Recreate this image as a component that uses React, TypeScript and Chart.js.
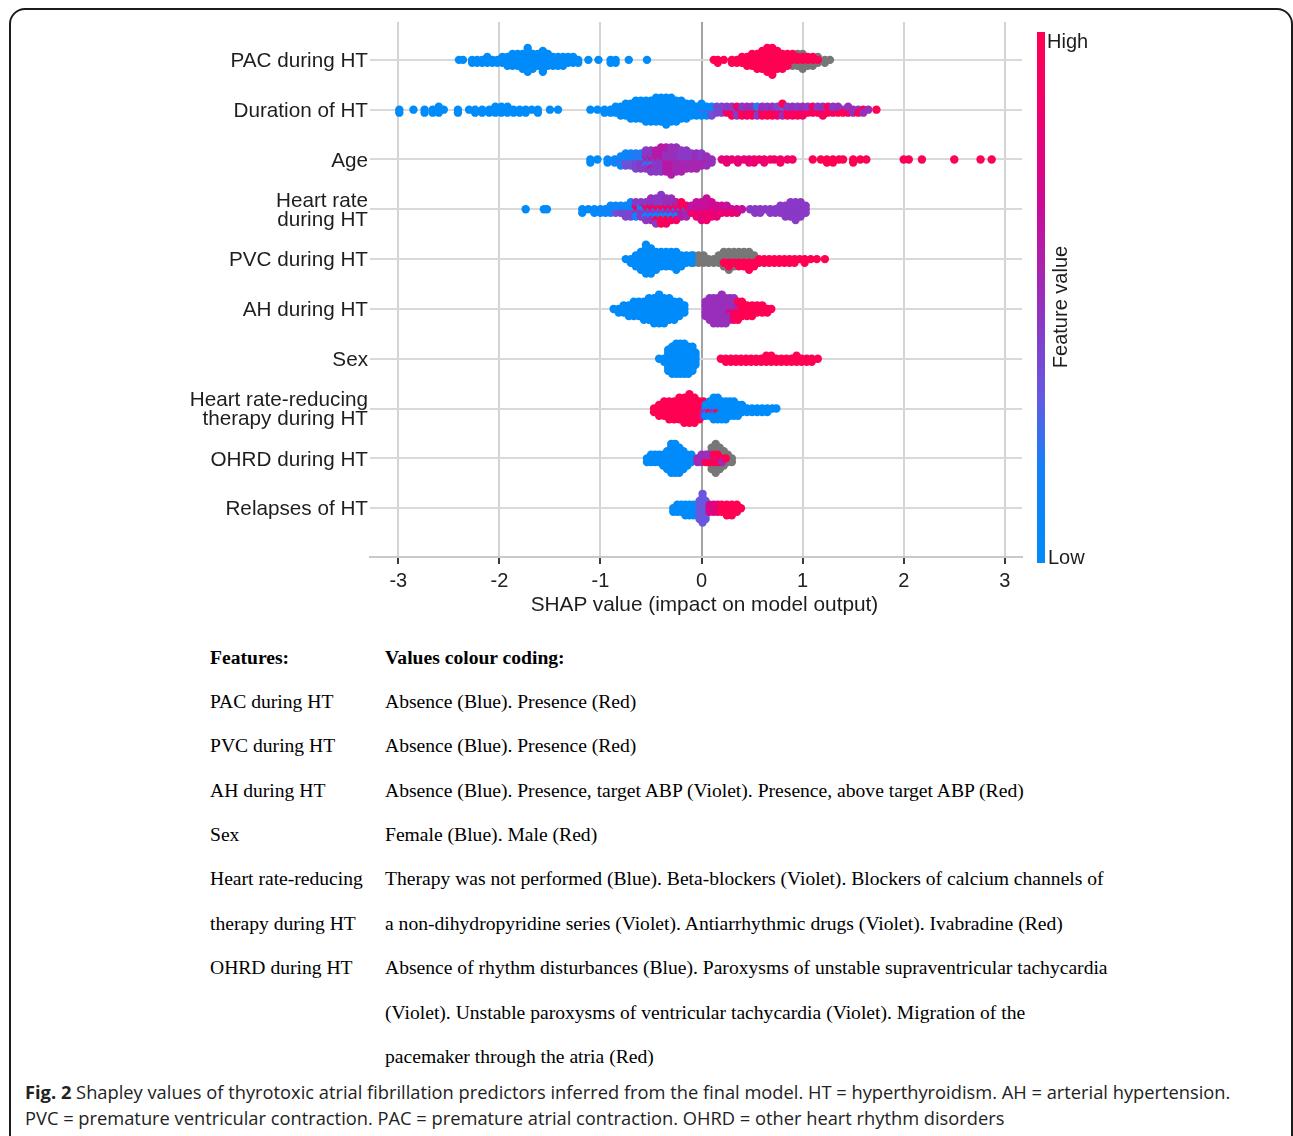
import React, { useEffect, useRef } from "react";
import { Chart, registerables } from "chart.js";

Chart.register(...registerables);

// [SHAP value, number of patients at that value, feature value (0 = low/blue, 1 = high/red, null = missing/grey)]
type Entry = [number, number, number | null];

const featureLabels: (string | string[])[] = [
  "PAC during HT",
  "Duration of HT",
  "Age",
  ["Heart rate", "during HT"],
  "PVC during HT",
  "AH during HT",
  "Sex",
  ["Heart rate-reducing", "therapy during HT"],
  "OHRD during HT",
  "Relapses of HT",
];

const xTicks = [-3, -2, -1, 0, 1, 2, 3];

const pacDuringHT: Entry[] = [
  [-2.4, 1, 0], [-2.36, 1, 0], [-2.27, 2, 0], [-2.22, 2, 0], [-2.17, 2, 0], [-2.12, 3, 0], [-2.07, 2, 0],
  [-2.02, 2, 0], [-1.97, 3, 0], [-1.92, 4, 0], [-1.87, 5, 0], [-1.82, 5, 0], [-1.77, 6, 0], [-1.72, 9, 0],
  [-1.67, 6, 0], [-1.62, 5, 0], [-1.57, 8, 0], [-1.52, 5, 0], [-1.47, 4, 0], [-1.42, 4, 0], [-1.37, 4, 0],
  [-1.32, 3, 0], [-1.27, 3, 0], [-1.22, 2, 0], [-1.12, 1, 0], [-1.02, 1, 0], [-0.9, 2, 0], [-0.85, 2, 0],
  [-0.72, 1, 0], [-0.54, 1, 0],
  [0.12, 1, 1], [0.16, 2, 1], [0.22, 1, 1], [0.3, 2, 1], [0.35, 2, 1], [0.4, 3, 1], [0.45, 4, 1],
  [0.5, 5, 1], [0.55, 6, 1], [0.6, 7, 1], [0.65, 8, 1], [0.65, 1, null], [0.7, 9, 1], [0.7, 1, null],
  [0.75, 7, 1], [0.8, 5, 1], [0.8, 1, null], [0.85, 4, 1], [0.85, 1, null], [0.9, 3, 1], [0.9, 2, null],
  [0.95, 2, 1], [0.95, 3, null], [1.0, 2, 1], [1.0, 4, null], [1.05, 2, 1], [1.05, 2, null], [1.1, 2, 1],
  [1.1, 2, null], [1.15, 1, 1], [1.15, 2, null], [1.22, 2, null], [1.27, 1, null],
];

const durationOfHT: Entry[] = [
  [-2.99, 2, 0], [-2.85, 1, 0], [-2.74, 2, 0], [-2.66, 2, 0], [-2.6, 3, 0], [-2.55, 1, 0], [-2.41, 2, 0],
  [-2.3, 1, 0], [-2.24, 2, 0], [-2.17, 2, 0], [-2.1, 2, 0], [-2.04, 3, 0], [-1.98, 3, 0], [-1.92, 3, 0],
  [-1.86, 2, 0], [-1.8, 2, 0], [-1.74, 2, 0], [-1.68, 1, 0], [-1.62, 2, 0], [-1.5, 1, 0], [-1.42, 1, 0],
  [-1.1, 1, 0], [-1.03, 1, 0], [-0.96, 2, 0], [-0.9, 2, 0], [-0.85, 3, 0], [-0.8, 4, 0], [-0.75, 5, 0],
  [-0.7, 6, 0], [-0.65, 7, 0], [-0.6, 7, 0], [-0.55, 8, 0], [-0.5, 8, 0], [-0.45, 9, 0], [-0.4, 9, 0],
  [-0.35, 10, 0], [-0.3, 9, 0], [-0.25, 8, 0], [-0.2, 7, 0], [-0.15, 6, 0], [-0.1, 5, 0], [-0.05, 4, 0],
  [0.0, 4, 0], [0.0, 1, 0.3], [0.05, 3, 0], [0.05, 1, 0.3], [0.1, 2, 0], [0.1, 2, 0.35], [0.15, 1, 0],
  [0.15, 2, 0.4],
  [0.2, 1, 0.1], [0.2, 2, 0.4], [0.25, 2, 0.45], [0.25, 1, 0.9], [0.3, 2, 0.45], [0.3, 2, 1],
  [0.35, 1, 0.2], [0.35, 2, 0.45], [0.35, 1, 0.9], [0.4, 2, 0.45], [0.4, 2, 1], [0.45, 1, 0.4],
  [0.45, 2, 0.9], [0.45, 1, 0.5], [0.5, 2, 0.5], [0.5, 2, 1], [0.55, 2, 0.45], [0.55, 1, 1], [0.55, 1, 0.2],
  [0.6, 2, 0.5], [0.6, 2, 0.9], [0.65, 2, 0.45], [0.65, 2, 1], [0.7, 2, 0.5], [0.7, 2, 1], [0.75, 2, 0.4],
  [0.75, 2, 0.9], [0.8, 2, 0.5], [0.8, 2, 1], [0.8, 1, 0.3], [0.85, 2, 0.45], [0.85, 2, 1], [0.9, 2, 0.5],
  [0.9, 2, 0.9], [0.95, 2, 0.45], [0.95, 2, 1], [1.0, 2, 0.5], [1.0, 2, 0.9], [1.05, 2, 0.45], [1.05, 1, 1],
  [1.1, 1, 0.5], [1.1, 2, 0.9], [1.15, 2, 0.45], [1.15, 1, 1], [1.2, 2, 0.5], [1.2, 2, 0.9], [1.25, 1, 0.5],
  [1.25, 2, 1], [1.3, 2, 0.45], [1.3, 1, 0.9], [1.35, 2, 0.5], [1.35, 1, 1], [1.4, 1, 0.45], [1.4, 1, 1],
  [1.45, 2, 0.5], [1.45, 1, 0.9], [1.5, 2, 0.5], [1.55, 1, 0.45], [1.55, 1, 1], [1.6, 1, 1], [1.6, 1, 0.5],
  [1.65, 1, 0.5], [1.73, 1, 1],
];

const age: Entry[] = [
  [-1.1, 2, 0], [-1.03, 1, 0], [-0.93, 2, 0.05], [-0.86, 2, 0.1], [-0.8, 3, 0.1], [-0.8, 1, 0.3],
  [-0.75, 3, 0.1], [-0.75, 2, 0.35], [-0.7, 3, 0.15], [-0.7, 2, 0.35], [-0.65, 3, 0.2], [-0.65, 3, 0.4],
  [-0.6, 3, 0.2], [-0.6, 3, 0.45], [-0.55, 2, 0.2], [-0.55, 4, 0.45], [-0.55, 1, 0.55], [-0.5, 2, 0.25],
  [-0.5, 4, 0.45], [-0.5, 2, 0.6], [-0.45, 1, 0.3], [-0.45, 4, 0.45], [-0.45, 3, 0.6], [-0.4, 1, 0.3],
  [-0.4, 4, 0.45], [-0.4, 4, 0.6], [-0.35, 4, 0.5], [-0.35, 5, 0.6], [-0.3, 5, 0.5], [-0.3, 5, 0.6],
  [-0.25, 5, 0.5], [-0.25, 4, 0.55], [-0.2, 4, 0.45], [-0.2, 4, 0.55], [-0.15, 4, 0.45], [-0.15, 3, 0.55],
  [-0.1, 3, 0.45], [-0.1, 3, 0.55], [-0.05, 3, 0.5], [-0.05, 3, 0.55], [0.0, 3, 0.45], [0.0, 2, 0.55],
  [0.05, 3, 0.5], [0.05, 1, 0.6], [0.1, 2, 0.5],
  [0.2, 1, 0.8], [0.25, 2, 0.8], [0.3, 1, 0.85], [0.36, 2, 0.8], [0.42, 1, 0.85], [0.47, 2, 0.8],
  [0.52, 2, 0.85], [0.57, 1, 0.85], [0.62, 2, 0.85], [0.68, 1, 0.9], [0.72, 1, 0.85], [0.78, 2, 0.9],
  [0.85, 1, 0.9], [0.9, 1, 0.9], [1.1, 1, 1], [1.18, 1, 1], [1.24, 2, 1], [1.3, 2, 1], [1.36, 1, 1],
  [1.4, 1, 1], [1.5, 2, 1], [1.57, 1, 1], [1.63, 1, 1], [2.0, 1, 1], [2.05, 1, 1], [2.18, 1, 1],
  [2.5, 1, 1], [2.76, 1, 1], [2.87, 1, 1],
];

const heartRateDuringHT: Entry[] = [
  [-1.74, 1, 0], [-1.56, 1, 0], [-1.53, 1, 0], [-1.18, 2, 0], [-1.12, 1, 0], [-1.06, 2, 0.05],
  [-1.0, 2, 0.05], [-0.95, 2, 0.1], [-0.9, 3, 0.1], [-0.85, 2, 0.1], [-0.85, 1, 0.35], [-0.8, 2, 0.15],
  [-0.8, 1, 0.4], [-0.75, 2, 0.1], [-0.75, 2, 0.4], [-0.7, 3, 0.1], [-0.7, 2, 0.4], [-0.65, 2, 0.15],
  [-0.65, 2, 0.45], [-0.65, 1, 0.9], [-0.6, 2, 0.1], [-0.6, 3, 0.45], [-0.55, 2, 0.15], [-0.55, 3, 0.45],
  [-0.55, 1, 0.95], [-0.5, 2, 0.1], [-0.5, 4, 0.5], [-0.5, 1, 0.95], [-0.45, 2, 0.1], [-0.45, 4, 0.45],
  [-0.45, 2, 0.95], [-0.4, 2, 0.1], [-0.4, 4, 0.45], [-0.4, 3, 1], [-0.35, 2, 0.15], [-0.35, 3, 0.5],
  [-0.35, 3, 0.95], [-0.3, 2, 0.1], [-0.3, 3, 0.5], [-0.3, 2, 0.9], [-0.25, 2, 0.1], [-0.25, 2, 0.55],
  [-0.25, 2, 0.9], [-0.2, 1, 0.15], [-0.2, 2, 0.6], [-0.2, 2, 0.95], [-0.15, 1, 0.1], [-0.15, 2, 0.55],
  [-0.15, 1, 0.9], [-0.1, 2, 0.6], [-0.1, 1, 0.85], [-0.05, 3, 0.65], [-0.05, 2, 0.85], [0.0, 3, 0.65],
  [0.0, 3, 0.8], [0.05, 4, 0.65], [0.05, 3, 0.85], [0.1, 3, 0.7], [0.1, 2, 0.85], [0.15, 2, 0.7],
  [0.15, 2, 0.8], [0.2, 2, 0.7], [0.2, 1, 0.85], [0.25, 2, 0.65], [0.25, 1, 0.85], [0.3, 1, 0.65],
  [0.3, 1, 0.85], [0.35, 1, 0.7], [0.35, 1, 0.8], [0.4, 1, 0.65],
  [0.48, 1, 0.45], [0.53, 2, 0.45], [0.58, 2, 0.45], [0.63, 1, 0.45], [0.68, 2, 0.45], [0.73, 2, 0.45],
  [0.78, 3, 0.45], [0.83, 4, 0.45], [0.88, 5, 0.45], [0.93, 6, 0.45], [0.98, 5, 0.45], [1.03, 3, 0.45],
];

const pvcDuringHT: Entry[] = [
  [-0.75, 1, 0], [-0.7, 2, 0], [-0.65, 4, 0], [-0.6, 6, 0], [-0.55, 9, 0], [-0.5, 8, 0], [-0.45, 6, 0],
  [-0.4, 5, 0], [-0.35, 5, 0], [-0.3, 5, 0], [-0.25, 6, 0], [-0.2, 4, 0], [-0.15, 3, 0], [-0.1, 3, 0],
  [-0.08, 3, null], [-0.03, 3, null], [0.02, 3, null], [0.07, 2, null], [0.12, 2, null], [0.17, 3, null],
  [0.22, 4, null], [0.22, 1, 1], [0.27, 4, null], [0.27, 2, 1], [0.32, 4, null], [0.32, 1, 1],
  [0.37, 3, null], [0.37, 2, 1], [0.42, 3, null], [0.42, 2, 1], [0.47, 3, null], [0.47, 3, 1],
  [0.52, 2, null], [0.52, 2, 1],
  [0.57, 2, 1], [0.62, 2, 1], [0.67, 2, 1], [0.72, 2, 1], [0.77, 2, 1], [0.82, 2, 1], [0.87, 2, 1],
  [0.92, 2, 1], [0.97, 1, 1], [1.02, 2, 1], [1.08, 1, 1], [1.14, 1, 1], [1.22, 1, 1],
];

const ahDuringHT: Entry[] = [
  [-0.87, 1, 0], [-0.82, 2, 0], [-0.77, 3, 0], [-0.72, 4, 0], [-0.67, 5, 0], [-0.62, 5, 0], [-0.57, 6, 0],
  [-0.52, 7, 0], [-0.47, 8, 0], [-0.42, 9, 0], [-0.37, 8, 0], [-0.32, 7, 0], [-0.27, 6, 0], [-0.22, 5, 0],
  [-0.17, 3, 0],
  [0.04, 5, 0.5], [0.08, 7, 0.5], [0.12, 8, 0.5], [0.16, 8, 0.5], [0.2, 9, 0.5], [0.24, 8, 0.5],
  [0.28, 6, 0.5], [0.28, 1, 0.8], [0.32, 4, 0.5], [0.32, 3, 0.9], [0.36, 2, 0.55], [0.36, 4, 1],
  [0.4, 5, 1], [0.45, 4, 1], [0.5, 4, 1], [0.55, 3, 1], [0.6, 3, 1], [0.64, 1, null], [0.65, 2, 1],
  [0.69, 1, 1],
];

const sex: Entry[] = [
  [-0.42, 1, 0], [-0.37, 2, 0], [-0.33, 8, 0], [-0.29, 10, 0], [-0.25, 11, 0], [-0.21, 11, 0],
  [-0.17, 11, 0], [-0.13, 10, 0], [-0.09, 9, 0], [-0.06, 5, 0],
  [0.19, 1, 1], [0.24, 2, 1], [0.29, 2, 1], [0.34, 2, 1], [0.39, 2, 1], [0.44, 2, 1], [0.49, 2, 1],
  [0.54, 2, 1], [0.59, 2, 1], [0.64, 3, 1], [0.69, 3, 1], [0.74, 2, 1], [0.79, 2, 1], [0.84, 2, 1],
  [0.89, 2, 1], [0.94, 3, 1], [0.99, 2, 1], [1.04, 2, 1], [1.09, 2, 1], [1.15, 1, 1],
];

const hrReducingTherapy: Entry[] = [
  [-0.47, 2, 1], [-0.42, 4, 1], [-0.37, 5, 1], [-0.32, 6, 1], [-0.27, 6, 1], [-0.22, 7, 1], [-0.17, 8, 1],
  [-0.12, 9, 1], [-0.07, 8, 1], [-0.02, 6, 1], [0.02, 3, 1], [0.02, 2, 0.5], [0.04, 3, 0], [0.04, 1, 0.45],
  [0.08, 4, 0], [0.08, 1, 1], [0.12, 6, 0], [0.12, 1, 0.5], [0.16, 6, 0], [0.16, 1, 1], [0.2, 6, 0],
  [0.24, 6, 0], [0.28, 5, 0], [0.32, 5, 0], [0.36, 4, 0], [0.4, 3, 0], [0.45, 2, 0], [0.5, 2, 0],
  [0.55, 2, 0], [0.6, 2, 0], [0.65, 2, 0], [0.7, 1, 0], [0.74, 1, 0],
];

const ohrdDuringHT: Entry[] = [
  [-0.54, 2, 0], [-0.5, 3, 0], [-0.46, 3, 0], [-0.42, 3, 0], [-0.38, 4, 0], [-0.34, 6, 0], [-0.3, 9, 0],
  [-0.26, 9, 0], [-0.22, 8, 0], [-0.18, 6, 0], [-0.14, 4, 0], [-0.1, 3, 0],
  [0.06, 3, null], [0.1, 7, null], [0.14, 9, null], [0.18, 7, null], [0.22, 5, null], [0.26, 3, null],
  [0.3, 2, null],
  [-0.04, 2, 0.55], [0.0, 3, 0.5], [0.04, 2, 0.5], [0.04, 1, 1], [0.08, 2, 0.5], [0.08, 1, 1],
  [0.12, 1, 0.5], [0.12, 2, 1], [0.16, 1, 0.5], [0.16, 2, 1], [0.2, 1, 1], [0.2, 1, 0.55], [0.24, 1, 1],
];

const relapsesOfHT: Entry[] = [
  [-0.28, 2, 0], [-0.24, 3, 0], [-0.2, 3, 0], [-0.16, 4, 0], [-0.12, 4, 0], [-0.08, 4, 0], [-0.04, 3, 0],
  [-0.02, 6, 0.32], [0.01, 9, 0.32], [0.04, 6, 0.32],
  [0.08, 3, 0.75], [0.12, 3, 0.75], [0.16, 3, 0.8], [0.2, 3, 1], [0.25, 4, 1], [0.3, 4, 1], [0.35, 3, 1],
  [0.39, 1, 1],
];

const rows: Entry[][] = [
  pacDuringHT, durationOfHT, age, heartRateDuringHT, pvcDuringHT,
  ahDuringHT, sex, hrReducingTherapy, ohrdDuringHT, relapsesOfHT,
];

const tableFeatures = [
  "PAC during HT", "PVC during HT", "AH during HT", "Sex", "Heart rate-reducing",
  "therapy during HT", "OHRD during HT", "", "",
];
const tableCoding = [
  "Absence (Blue). Presence (Red)",
  "Absence (Blue). Presence (Red)",
  "Absence (Blue). Presence, target ABP (Violet). Presence, above target ABP (Red)",
  "Female (Blue). Male (Red)",
  "Therapy was not performed (Blue). Beta-blockers (Violet). Blockers of calcium channels of",
  "a non-dihydropyridine series (Violet). Antiarrhythmic drugs (Violet). Ivabradine (Red)",
  "Absence of rhythm disturbances (Blue). Paroxysms of unstable supraventricular tachycardia",
  "(Violet). Unstable paroxysms of ventricular tachycardia (Violet). Migration of the",
  "pacemaker through the atria (Red)",
];

// ---------- styling ----------
const FONT = "'Liberation Sans', Arial, Helvetica, sans-serif";
const SERIF = "'Liberation Serif', 'Times New Roman', serif";
const CAPTION = "'Open Sans', sans-serif";
const GRAY = "#777777";
const STOPS: [number, number[]][] = [
  [0, [0, 139, 251]],
  [0.18, [20, 128, 248]],
  [0.31, [100, 90, 225]],
  [0.46, [140, 55, 195]],
  [0.68, [205, 10, 150]],
  [0.85, [240, 0, 110]],
  [1, [255, 0, 82]],
];

function cmap(v: number): string {
  const t = Math.max(0, Math.min(1, v));
  for (let i = 1; i < STOPS.length; i++) {
    const [p1, c1] = STOPS[i];
    const [p0, c0] = STOPS[i - 1];
    if (t <= p1) {
      const f = (t - p0) / (p1 - p0);
      const c = c0.map((a, k) => Math.round(a + (c1[k] - a) * f));
      return `rgb(${c[0]},${c[1]},${c[2]})`;
    }
  }
  return "rgb(255,0,82)";
}

const gradientCss =
  "linear-gradient(to top, " + STOPS.map(([p, c]) => `rgb(${c[0]},${c[1]},${c[2]}) ${p * 100}%`).join(", ") + ")";

type Pt = { x: number; y: number; fv: number | null };

// beeswarm layout in the style of shap.summary_plot
function layoutRow(entries: Entry[], row: number): Pt[] {
  const groups = new Map<number, Entry[]>();
  for (const e of entries) {
    const g = groups.get(e[0]);
    if (g) g.push(e);
    else groups.set(e[0], [e]);
  }
  let maxCount = 1;
  groups.forEach((g) => {
    const n = g.reduce((s, e) => s + e[1], 0);
    if (n > maxCount) maxCount = n;
  });
  const maxLayer = Math.ceil((maxCount - 1) / 2);
  const scale = (0.9 * 0.4) / (maxLayer + 1);
  const pts: Pt[] = [];
  const keys = Array.from(groups.keys()).sort((a, b) => a - b);
  for (const k of keys) {
    const g = groups.get(k)!;
    const rem = g.map((e) => e[1]);
    const seq: (number | null)[] = [];
    let left = rem.reduce((a, b) => a + b, 0);
    while (left > 0) {
      for (let i = 0; i < g.length; i++) {
        if (rem[i] > 0) {
          seq.push(g[i][2]);
          rem[i]--;
          left--;
        }
      }
    }
    seq.forEach((fv, layer) => {
      const off = Math.ceil(layer / 2) * (layer % 2 ? 1 : -1);
      pts.push({ x: k, y: row + off * scale, fv });
    });
  }
  const grey = pts.filter((p) => p.fv === null);
  const coloured = pts.filter((p) => p.fv !== null);
  return grey.concat(coloured);
}

export default function App() {
  const ref = useRef<HTMLCanvasElement | null>(null);

  useEffect(() => {
    if (!ref.current) return;
    const datasets = rows.map((entries, r) => {
      const pts = layoutRow(entries, r);
      return {
        label: typeof featureLabels[r] === "string" ? (featureLabels[r] as string) : (featureLabels[r] as string[]).join(" "),
        data: pts.map((p) => ({ x: p.x, y: p.y })),
        pointBackgroundColor: pts.map((p) => (p.fv === null ? GRAY : cmap(p.fv))),
        pointRadius: 4.2,
        pointHoverRadius: 4.2,
        pointBorderWidth: 0,
        borderWidth: 0,
      };
    });
    const chart = new Chart(ref.current, {
      type: "scatter",
      data: { datasets },
      options: {
        animation: false,
        responsive: false,
        devicePixelRatio: 1,
        events: [],
        layout: { padding: { top: 22, right: 78, left: 0, bottom: 0 } },
        plugins: { legend: { display: false }, tooltip: { enabled: false } },
        scales: {
          x: {
            type: "linear",
            min: -3.28,
            max: 3.17,
            afterBuildTicks: (a: any) => {
              a.ticks = xTicks.map((v) => ({ value: v }));
            },
            afterFit: (a: any) => {
              a.height = 63;
            },
            grid: {
              color: (c: any) => (c.tick && c.tick.value === 0 ? "#a3a3a3" : "#d4d4d4"),
              lineWidth: 2,
              drawTicks: true,
              tickLength: 7,
              tickColor: "#3a3a3a",
              tickWidth: 2,
            },
            border: { display: true, color: "#c9c9c9", width: 2 },
            ticks: {
              color: "#222",
              font: { family: FONT, size: 20 },
              padding: 5,
              callback: (v: any) => String(v),
            },
          },
          y: {
            type: "linear",
            reverse: true,
            min: -0.76,
            max: 9.98,
            afterBuildTicks: (a: any) => {
              a.ticks = featureLabels.map((_, i) => ({ value: i }));
            },
            afterFit: (a: any) => {
              a.width = 370;
            },
            grid: { color: "#d9d9d9", lineWidth: 2, drawTicks: false },
            border: { display: false },
            ticks: {
              color: "#1e1e1e",
              font: { family: FONT, size: 20.7, lineHeight: 0.9 },
              padding: 2,
              labelOffset: 1.5,
              callback: (v: any) => featureLabels[v as number] as any,
            },
          },
        },
      },
    } as any);
    return () => chart.destroy();
  }, []);

  const abs = (o: React.CSSProperties): React.CSSProperties => ({ position: "absolute", whiteSpace: "nowrap", ...o });
  const tableBase = 664.5;
  const tableStep = 44.35;

  return (
    <div style={{ position: "absolute", left: 0, top: 0, width: 1293, height: 1136, overflow: "hidden", background: "#fff" }}>
      <div
        style={abs({
          left: 9,
          top: 8,
          width: 1284,
          height: 1200,
          border: "2px solid #1c1c1c",
          borderRadius: 16,
          boxSizing: "border-box",
        })}
      />
      <canvas ref={ref} width={1100} height={620} style={{ position: "absolute", left: 0, top: 0, width: 1100, height: 620 }} />
      <div style={abs({ left: 0, width: 1409, top: 592, textAlign: "center", font: `20.8px/24px ${FONT}`, color: "#1e1e1e" })}>
        SHAP value (impact on model output)
      </div>
      <div style={abs({ left: 1037, top: 32, width: 8, height: 531, background: gradientCss })} />
      <div style={abs({ left: 1047, top: 29, font: `20px/24px ${FONT}`, color: "#1e1e1e" })}>High</div>
      <div style={abs({ left: 1048, top: 545, font: `20px/24px ${FONT}`, color: "#1e1e1e" })}>Low</div>
      <div
        style={abs({
          left: 960,
          top: 295,
          width: 200,
          textAlign: "center",
          font: `20px/24px ${FONT}`,
          color: "#1e1e1e",
          transform: "rotate(-90deg)",
        })}
      >
        Feature value
      </div>

      <div style={abs({ left: 210, top: tableBase - 18.8, font: `bold 19.6px/24px ${SERIF}`, color: "#000" })}>Features:</div>
      <div style={abs({ left: 385, top: tableBase - 18.8, font: `bold 19.6px/24px ${SERIF}`, color: "#000" })}>
        Values colour coding:
      </div>
      {tableCoding.map((t, i) => (
        <React.Fragment key={i}>
          <div style={abs({ left: 210, top: tableBase + tableStep * (i + 1) - 18.8, font: `19.6px/24px ${SERIF}`, color: "#000" })}>
            {tableFeatures[i]}
          </div>
          <div style={abs({ left: 385, top: tableBase + tableStep * (i + 1) - 18.8, font: `19.6px/24px ${SERIF}`, color: "#000" })}>
            {t}
          </div>
        </React.Fragment>
      ))}

      <div style={abs({ left: 25, top: 1099 - 20, font: `18.3px/26px ${CAPTION}`, color: "#222" })}>
        <b>Fig. 2</b> Shapley values of thyrotoxic atrial fibrillation predictors inferred from the final model. HT = hyperthyroidism. AH = arterial hypertension.
      </div>
      <div style={abs({ left: 25, top: 1125 - 20, font: `18.3px/26px ${CAPTION}`, color: "#222" })}>
        PVC = premature ventricular contraction. PAC = premature atrial contraction. OHRD = other heart rhythm disorders
      </div>
    </div>
  );
}
